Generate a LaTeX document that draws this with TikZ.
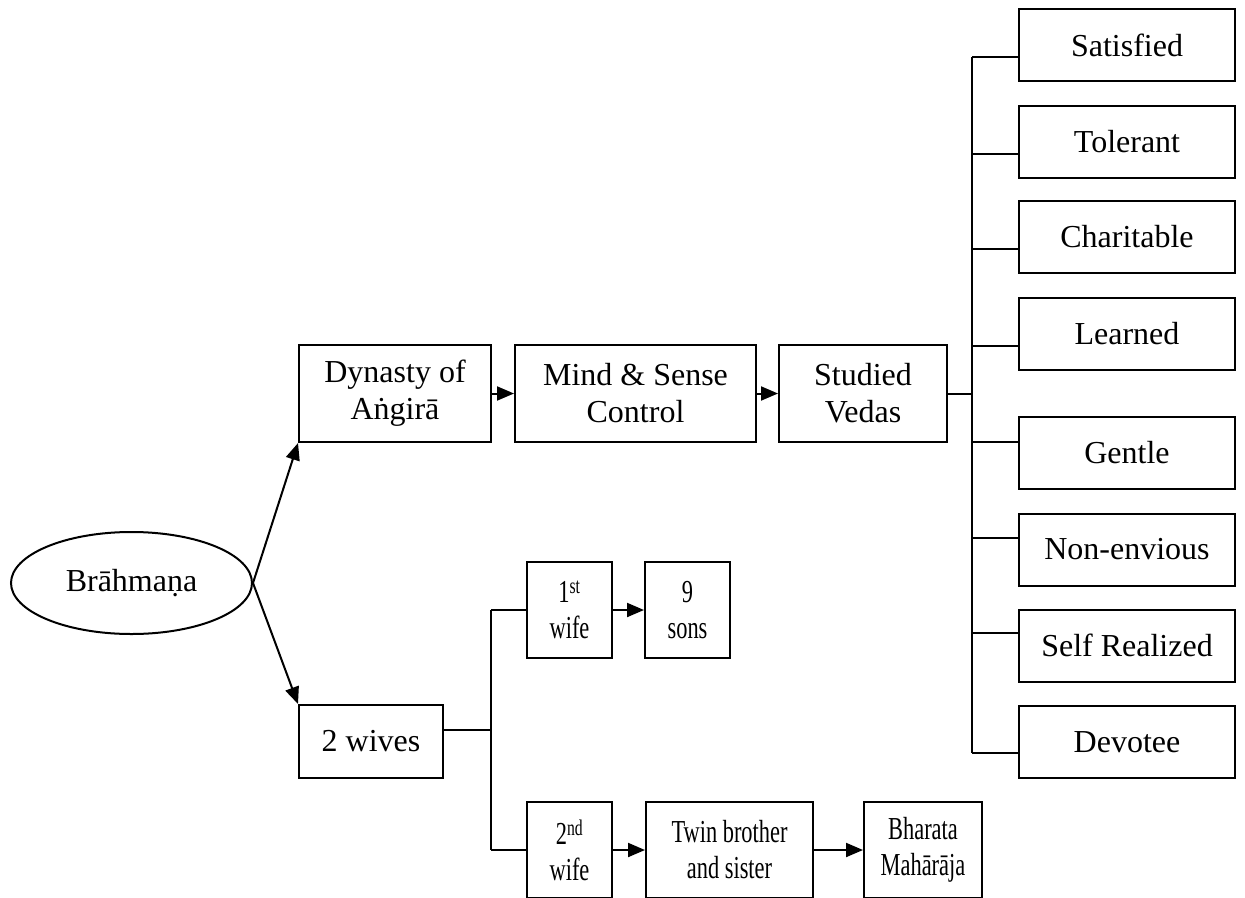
\documentclass[tikz,border=0pt]{standalone}
\usepackage{fontspec}
\setmainfont{Liberation Serif}
\newfontfamily\narrowserif[FakeStretch=0.7]{Liberation Serif}
\usetikzlibrary{arrows.meta,shapes.geometric}
\begin{document}
\begin{tikzpicture}[x=1pt,y=-1pt,
  line width=2pt,
  every node/.style={font=\fontsize{32}{37}\selectfont, inner sep=0pt, align=center},
  box/.style={draw, rectangle, minimum height=#1},
  box/.default=72,
  narrow/.style={font=\narrowserif\fontsize{32}{36}\selectfont},
  arr/.style={-{Triangle[length=17pt,width=14pt]}},
]
\clip (0,0) rectangle (1245,897);

% root
\node[draw, ellipse, minimum width=241, minimum height=102] (root) at (131.5,583) {Brāhmaṇa};

% upper branch
\node[box=97, minimum width=192] (dyn)  at (395,393.5)   {Dynasty of\\Aṅgirā};
\node[box=97, minimum width=241] (mind) at (635.5,393.5) {Mind \& Sense\\Control};
\node[box=97, minimum width=168] (stud) at (863,393.5)   {Studied\\Vedas};

% qualities
\node[box, minimum width=216] (sat) at (1127,45)    {Satisfied};
\node[box, minimum width=216] (tol) at (1127,141.5) {Tolerant};
\node[box, minimum width=216] (cha) at (1127,237)   {Charitable};
\node[box, minimum width=216] (lea) at (1127,333.5) {Learned};
\node[box, minimum width=216] (gen) at (1127,453)   {Gentle};
\node[box, minimum width=216] (non) at (1127,549.5) {Non-envious};
\node[box, minimum width=216] (sel) at (1127,645.5) {Self Realized};
\node[box, minimum width=216] (dev) at (1127,742)   {Devotee};

% lower branch
\node[box=73, minimum width=144] (wives) at (371,741.5) {2 wives};
\node[box=96, minimum width=85,  narrow] (w1)   at (569.5,610) {1\textsuperscript{st}\\wife};
\node[box=96, minimum width=85,  narrow] (sons) at (687.5,610) {9\\sons};
\node[box=96, minimum width=85,  narrow] (w2)   at (569.5,850) {2\textsuperscript{nd}\\wife};
\node[box=96, minimum width=167, narrow] (twin) at (729.5,850) {Twin brother\\and sister};
\node[box=96, minimum width=118, narrow] (bha)  at (923,850)   {Bharata\\Mahārāja};

% arrows from the root
\draw[arr] (root.east) -- (dyn.south west);
\draw[arr] (root.east) -- (wives.north west);

% upper chain
\draw[arr] (dyn.east) -- (mind.west);
\draw[arr] (mind.east) -- (stud.west);

% quality bracket
\coordinate (q1) at (972,57);
\coordinate (q2) at (972,154);
\coordinate (q3) at (972,249);
\coordinate (q4) at (972,346);
\coordinate (q5) at (972,442);
\coordinate (q6) at (972,538);
\coordinate (q7) at (972,633);
\coordinate (q8) at (972,753);
\draw (q1) -- (q8);
\draw (stud.east) -- (stud.east -| q1);
\foreach \c/\n in {q1/sat,q2/tol,q3/cha,q4/lea,q5/gen,q6/non,q7/sel,q8/dev}
  \draw (\c) -- (\c -| \n.west);

% wives bracket
\coordinate (wa) at (491,610);
\coordinate (wb) at (491,850);
\draw (wa) -- (wb);
\draw (wives.east |- 0,730) -- (wa |- 0,730);
\draw (wa) -- (w1.west);
\draw (wb) -- (w2.west);

% lower chains
\draw[arr] (w1.east) -- (sons.west);
\draw[arr] (w2.east) -- (twin.west);
\draw[arr] (twin.east) -- (bha.west);
\end{tikzpicture}
\end{document}
